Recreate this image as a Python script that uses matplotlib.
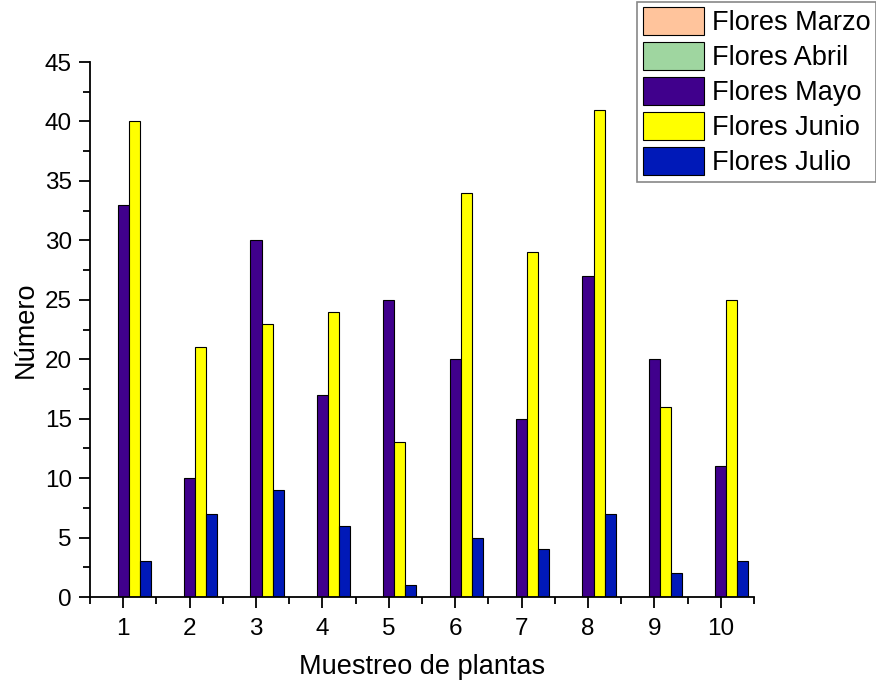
import matplotlib
matplotlib.use("Agg")
import matplotlib.pyplot as plt
import numpy as np
from matplotlib.ticker import MultipleLocator

plt.rcParams['font.family'] = ['Liberation Sans', 'DejaVu Sans']

samples = [1, 2, 3, 4, 5, 6, 7, 8, 9, 10]
marzo = [0, 0, 0, 0, 0, 0, 0, 0, 0, 0]
abril = [0, 0, 0, 0, 0, 0, 0, 0, 0, 0]
mayo = [33, 10, 30, 17, 25, 20, 15, 27, 20, 11]
junio = [40, 21, 23, 24, 13, 34, 29, 41, 16, 25]
julio = [3, 7, 9, 6, 1, 5, 4, 7, 2, 3]

series = [
    ("Flores Marzo", marzo, "#FFC49C"),
    ("Flores Abril", abril, "#9FD6A0"),
    ("Flores Mayo", mayo, "#40008C"),
    ("Flores Junio", junio, "#FFFF00"),
    ("Flores Julio", julio, "#0019B8"),
]

fig = plt.figure(figsize=(8.76, 6.83), dpi=100)
ax = fig.add_axes([0.1027, 0.1259, 0.7580, 0.7833])

x = np.array(samples, dtype=float)
w = 0.167
for i, (name, vals, col) in enumerate(series):
    ax.bar(x + (i - 2) * w, vals, width=w, color=col, edgecolor="black",
           linewidth=0.8, label=name)

ax.set_xlim(0.5, 10.5)
ax.set_ylim(0, 45)
ax.set_xticks(samples)
ax.set_yticks(np.arange(0, 46, 5))
ax.xaxis.set_minor_locator(MultipleLocator(0.5))
ax.yaxis.set_minor_locator(MultipleLocator(2.5))
ax.spines['top'].set_visible(False)
ax.spines['right'].set_visible(False)
for s in ['left', 'bottom']:
    ax.spines[s].set_linewidth(1.3)
ax.tick_params(which='major', direction='out', length=8, width=1.3, labelsize=17.5)
ax.tick_params(axis='y', which='major', pad=5)
ax.tick_params(axis='x', which='major', pad=7)
ax.tick_params(which='minor', direction='out', length=5, width=1.3)
ax.tick_params(axis='x', which='minor', labelbottom=False)

ax.set_xlabel("Muestreo de plantas", fontsize=19.5, labelpad=10)
ax.set_ylabel("Número", fontsize=19.5, labelpad=4)

leg = fig.legend(loc='upper right', bbox_to_anchor=(1.0, 0.997),
                 fontsize=19.5, handlelength=2.25, handleheight=1.2,
                 handletextpad=0.3, labelspacing=0.22, borderpad=0.2,
                 borderaxespad=0.0, fancybox=False, framealpha=1)
leg.get_frame().set_edgecolor('#888888')
leg.get_frame().set_linewidth(1.2)

fig.savefig("out.png", dpi=100)
